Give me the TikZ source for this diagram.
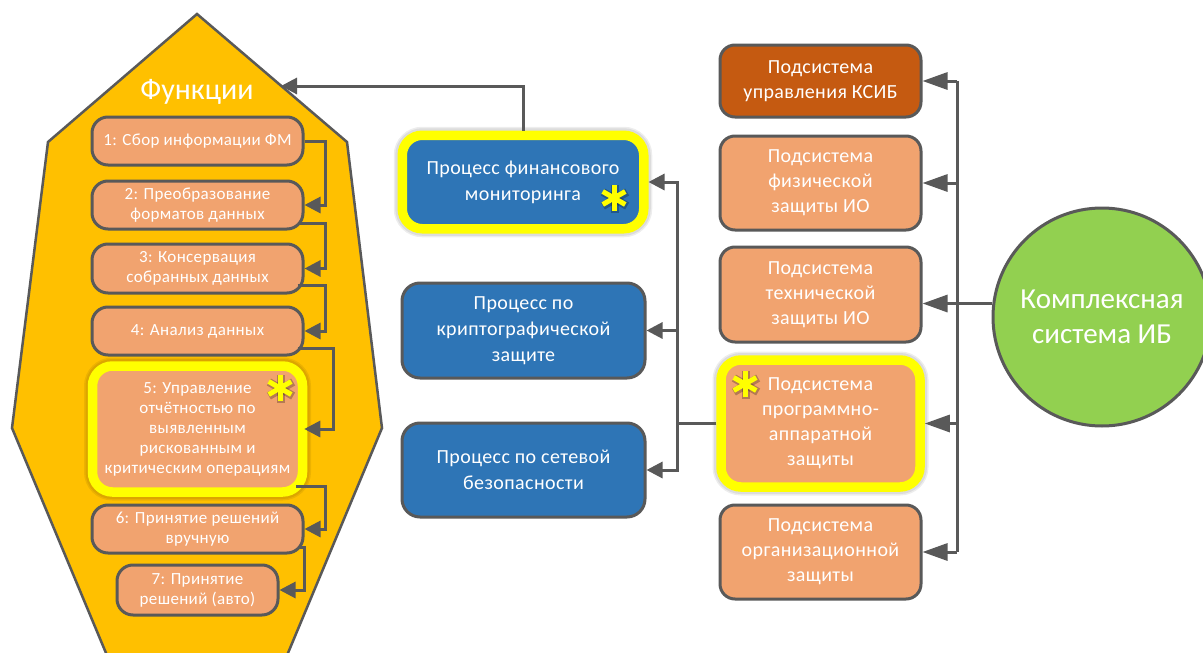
\documentclass[tikz,border=0pt]{standalone}
\usepackage{fontspec}
\setmainfont{Carlito}
\newfontfamily\boxfont{Carlito}[LetterSpace=2]
\usetikzlibrary{arrows.meta,calc}
\definecolor{lor}{HTML}{F1A36F}
\definecolor{dor}{HTML}{C55A11}
\definecolor{bblue}{HTML}{2E75B6}
\definecolor{hexfill}{HTML}{FFC000}
\definecolor{grn}{HTML}{92D050}
\definecolor{gline}{HTML}{595959}
\definecolor{hyel}{HTML}{FFFF00}
\begin{document}
\begin{tikzpicture}[x=1pt,y=-1pt,
  boxbase/.style={draw=gline,line width=3pt,text=white,align=center,inner sep=0pt},
  lbox/.style={boxbase,fill=lor,rounded corners=16pt,minimum width=211pt,minimum height=48pt,
    font=\boxfont\fontsize{17}{20}\selectfont},
  rbox/.style={boxbase,fill=lor,rounded corners=15pt,minimum width=201pt,minimum height=94pt,
    font=\boxfont\fontsize{20}{25}\selectfont},
  bbox/.style={boxbase,fill=bblue,rounded corners=18pt,minimum width=243pt,minimum height=94pt,
    font=\boxfont\fontsize{20}{26}\selectfont},
  hilite/.style={draw=hyel,line width=9.5pt,
    preaction={draw=black,draw opacity=0.07,line width=17pt},
    preaction={draw=black,draw opacity=0.07,line width=14pt}},
  conn/.style={draw=gline,line width=3pt},
  larr/.style={conn,-{Triangle[length=16pt,width=16pt]}},
  rarr/.style={conn,-{Triangle[length=25pt,width=17pt]}},
  astk/.pic={
    \foreach \a in {90,30,150}
      \draw[black,opacity=0.25,line width=8pt] ([shift={(1,1)}]\a:14) -- ([shift={(1,1)}]\a+180:14);
    \foreach \a in {90,30,150}
      \draw[hyel,line width=5pt] (\a:13) -- (\a+180:13);
  }
]
\useasboundingbox (0,0) rectangle (1203,653);
\clip (0,0) rectangle (1203,653);
\fill[white] (0,0) rectangle (1203,653);

% Functions panel
\draw[fill=hexfill,draw=gline,line width=2.5pt,line join=miter]
  (197,14) -- (347,142) -- (382,428) -- (283,665) -- (111,665) -- (12,428) -- (48,142) -- cycle;
\coordinate (hArr) at (281,86);
\node[text=white,font=\fontsize{30}{30}\selectfont,anchor=base,inner sep=0pt] (ftitle) at (197,99) {Функции};

\node[lbox] (b1) at (197.5,141) {1: Сбор информации ФМ};
\node[lbox] (b2) at (197.5,205) {2: Преобразование\\форматов данных};
\node[lbox,minimum height=49pt] (b3) at (197.5,268.5) {3: Консервация\\собранных данных};
\node[lbox] (b4) at (197.5,331) {4: Анализ данных};
\node[lbox,hilite,rounded corners=20pt,minimum width=210pt,minimum height=126pt] (b5) at (197.5,429)
  {5: Управление\\отчётностью по\\выявленным\\рискованным и\\критическим операциям};
\node[lbox] (b6) at (197.5,529) {6: Принятие решений\\вручную};
\node[lbox,minimum width=161pt,minimum height=50pt] (b7) at (197.5,590) {7: Принятие\\решений (авто)};
\pic at (280,388) {astk};

\draw[larr] (b1.east) -| ($(b2.east)+(21,0)$) -- (b2.east);
\draw[larr] ($(b2.east)+(-7,18)$) -| ($(b3.east)+(21,0)$) -- (b3.east);
\draw[larr] ($(b3.east)+(-7,17)$) -| ($(b4.east)+(21,0)$) -- (b4.east);
\draw[larr] ($(b4.east)+(-7,17)$) -| ($(b5.east)+(26,0)$) -- ($(b5.east)+(-3,0)$);
\draw[larr] ($(b5.east)+(-11,57)$) -| ($(b6.east)+(21,0)$) -- (b6.east);
\draw[larr] ($(b6.east)+(-7,18)$) -| ($(b7.east)+(25,0)$) -- (b7.east);

% Processes
\node[bbox,hilite,rounded corners=20pt,minimum width=241.5pt,minimum height=93.5pt] (fin) at (523,182)
  {Процесс финансового\\мониторинга};
\pic at (614,198) {astk};
\node[bbox,minimum height=95pt] (cry) at (523.5,330.5) {Процесс по\\криптографической\\защите};
\node[bbox] (net) at (523.5,470) {Процесс по сетевой\\безопасности};

\draw[larr] (fin.north) |- (hArr);

% Subsystems
\node[rbox,fill=dor,minimum height=72pt] (k) at (820.5,81) {Подсистема\\управления КСИБ};
\node[rbox] (phys) at (820.5,183) {Подсистема\\физической\\защиты ИО};
\node[rbox,minimum height=95pt] (tech) at (820.5,294.5) {Подсистема\\технической\\защиты ИО};
\node[rbox,hilite,rounded corners=20pt,minimum width=199pt,minimum height=127pt] (soft) at (820.5,423.5)
  {Подсистема\\программно-\\аппаратной\\защиты};
\pic at (745,384) {astk};
\node[rbox] (org) at (820.5,552) {Подсистема\\организационной\\защиты};

\draw[larr] (soft.west) -| ($(fin.east)+(29,0)$) -- (fin.east);
\draw[larr] ($(fin.east)+(29,0)$) |- (cry.east);
\draw[larr] ($(fin.east)+(29,0)$) |- (net.east);

% Complex system
\node[circle,draw=gline,line width=3pt,fill=grn,minimum size=218pt,inner sep=0pt,text=white,align=center,
  font=\fontsize{29}{35}\selectfont] (circ) at (1102,317) {Комплексная\\система ИБ};
\coordinate (bx) at (957,303);
\draw[conn] (bx |- k.east) -- (bx |- org.east);
\draw[rarr] (circ.173) -- (tech.east |- circ.173);
\foreach \n in {k,phys,soft,org} \draw[rarr] (bx |- \n.east) -- (\n.east);
\end{tikzpicture}
\end{document}
